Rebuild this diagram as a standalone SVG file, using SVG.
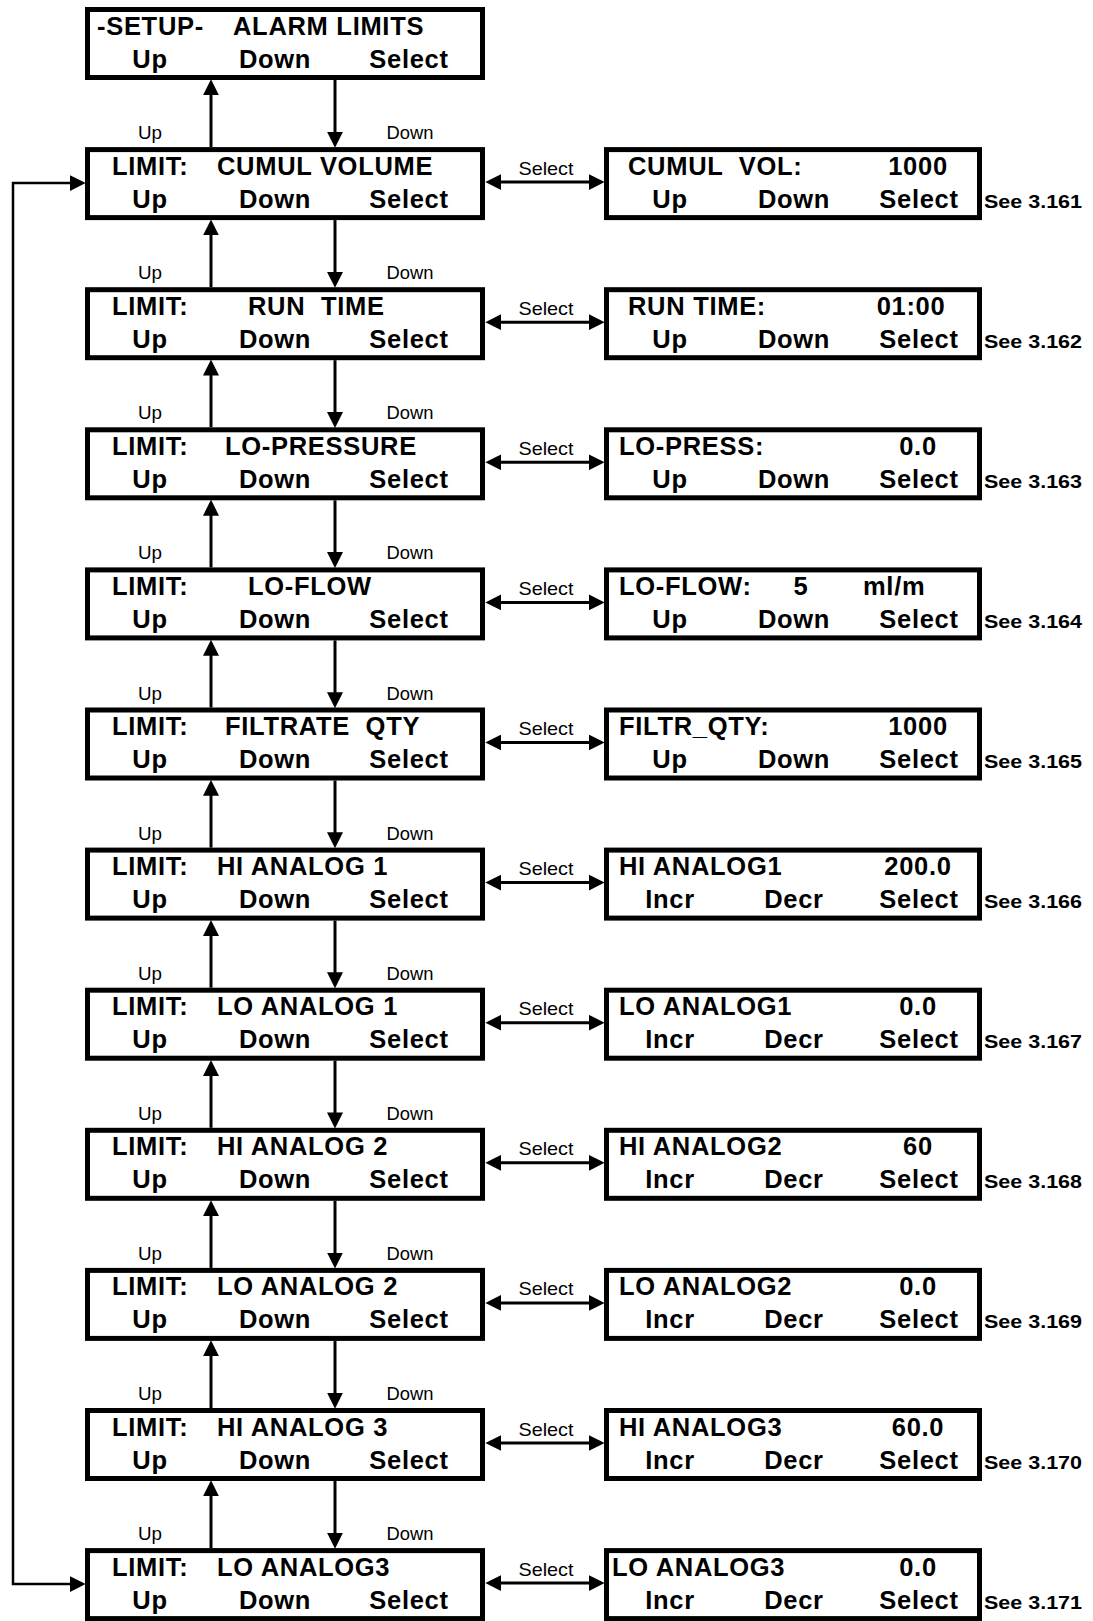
<svg xmlns="http://www.w3.org/2000/svg" width="1093" height="1621" viewBox="0 0 1093 1621">
<style>
.box{fill:#fff;stroke:#000;stroke-width:5}
.t{font-family:"Liberation Sans",Arial,sans-serif;font-weight:bold;font-size:25.5px;letter-spacing:0.7px;fill:#000}
.m{text-anchor:middle}
.see{font-family:"Liberation Sans",Arial,sans-serif;font-weight:bold;font-size:18.5px;fill:#000}
.lbl{font-family:"Liberation Sans",Arial,sans-serif;font-size:18.5px;fill:#000;text-anchor:middle}
.c{fill:none;stroke:#000;stroke-width:3}
.loop{fill:none;stroke:#000;stroke-width:2.5}
</style>
<defs>
<marker id="ah" markerUnits="userSpaceOnUse" markerWidth="16" markerHeight="16" viewBox="0 0 15 15" refX="5" refY="7.5" orient="auto-start-reverse">
<path d="M0,0 L15,7.5 L0,15 z" fill="#000"/>
</marker>
</defs>

<g id="connectors">
<!-- loop -->
<path class="loop" d="M75,183.1 H13 V1584.1 H75" marker-start="url(#ah)" marker-end="url(#ah)"/>
<!-- up / down arrows -->
<line class="c" x1="211" y1="147.1" x2="211" y2="90" marker-end="url(#ah)"/>
<line class="c" x1="335" y1="80" x2="335" y2="137.1" marker-end="url(#ah)"/>
<line class="c" x1="211" y1="287.2" x2="211" y2="230.1" marker-end="url(#ah)"/>
<line class="c" x1="335" y1="220.1" x2="335" y2="277.2" marker-end="url(#ah)"/>
<line class="c" x1="211" y1="427.3" x2="211" y2="370.2" marker-end="url(#ah)"/>
<line class="c" x1="335" y1="360.2" x2="335" y2="417.3" marker-end="url(#ah)"/>
<line class="c" x1="211" y1="567.4" x2="211" y2="510.3" marker-end="url(#ah)"/>
<line class="c" x1="335" y1="500.3" x2="335" y2="557.4" marker-end="url(#ah)"/>
<line class="c" x1="211" y1="707.5" x2="211" y2="650.4" marker-end="url(#ah)"/>
<line class="c" x1="335" y1="640.4" x2="335" y2="697.5" marker-end="url(#ah)"/>
<line class="c" x1="211" y1="847.6" x2="211" y2="790.5" marker-end="url(#ah)"/>
<line class="c" x1="335" y1="780.5" x2="335" y2="837.6" marker-end="url(#ah)"/>
<line class="c" x1="211" y1="987.7" x2="211" y2="930.6" marker-end="url(#ah)"/>
<line class="c" x1="335" y1="920.6" x2="335" y2="977.7" marker-end="url(#ah)"/>
<line class="c" x1="211" y1="1127.8" x2="211" y2="1070.7" marker-end="url(#ah)"/>
<line class="c" x1="335" y1="1060.7" x2="335" y2="1117.8" marker-end="url(#ah)"/>
<line class="c" x1="211" y1="1267.9" x2="211" y2="1210.8" marker-end="url(#ah)"/>
<line class="c" x1="335" y1="1200.8" x2="335" y2="1257.9" marker-end="url(#ah)"/>
<line class="c" x1="211" y1="1408" x2="211" y2="1350.9" marker-end="url(#ah)"/>
<line class="c" x1="335" y1="1340.9" x2="335" y2="1398" marker-end="url(#ah)"/>
<line class="c" x1="211" y1="1548.1" x2="211" y2="1491" marker-end="url(#ah)"/>
<line class="c" x1="335" y1="1481" x2="335" y2="1538.1" marker-end="url(#ah)"/>
<!-- select arrows -->
<line class="c" x1="496" y1="182.1" x2="594" y2="182.1" marker-start="url(#ah)" marker-end="url(#ah)"/>
<line class="c" x1="496" y1="322.2" x2="594" y2="322.2" marker-start="url(#ah)" marker-end="url(#ah)"/>
<line class="c" x1="496" y1="462.3" x2="594" y2="462.3" marker-start="url(#ah)" marker-end="url(#ah)"/>
<line class="c" x1="496" y1="602.4" x2="594" y2="602.4" marker-start="url(#ah)" marker-end="url(#ah)"/>
<line class="c" x1="496" y1="742.5" x2="594" y2="742.5" marker-start="url(#ah)" marker-end="url(#ah)"/>
<line class="c" x1="496" y1="882.6" x2="594" y2="882.6" marker-start="url(#ah)" marker-end="url(#ah)"/>
<line class="c" x1="496" y1="1022.7" x2="594" y2="1022.7" marker-start="url(#ah)" marker-end="url(#ah)"/>
<line class="c" x1="496" y1="1162.8" x2="594" y2="1162.8" marker-start="url(#ah)" marker-end="url(#ah)"/>
<line class="c" x1="496" y1="1302.9" x2="594" y2="1302.9" marker-start="url(#ah)" marker-end="url(#ah)"/>
<line class="c" x1="496" y1="1443" x2="594" y2="1443" marker-start="url(#ah)" marker-end="url(#ah)"/>
<line class="c" x1="496" y1="1583.1" x2="594" y2="1583.1" marker-start="url(#ah)" marker-end="url(#ah)"/>
<!-- labels -->
<g>
<text class="lbl" x="150" y="139.1" textLength="24" lengthAdjust="spacingAndGlyphs">Up</text><text class="lbl" x="410" y="139.1" textLength="47" lengthAdjust="spacingAndGlyphs">Down</text>
<text class="lbl" x="150" y="279.2" textLength="24" lengthAdjust="spacingAndGlyphs">Up</text><text class="lbl" x="410" y="279.2" textLength="47" lengthAdjust="spacingAndGlyphs">Down</text>
<text class="lbl" x="150" y="419.3" textLength="24" lengthAdjust="spacingAndGlyphs">Up</text><text class="lbl" x="410" y="419.3" textLength="47" lengthAdjust="spacingAndGlyphs">Down</text>
<text class="lbl" x="150" y="559.4" textLength="24" lengthAdjust="spacingAndGlyphs">Up</text><text class="lbl" x="410" y="559.4" textLength="47" lengthAdjust="spacingAndGlyphs">Down</text>
<text class="lbl" x="150" y="699.5" textLength="24" lengthAdjust="spacingAndGlyphs">Up</text><text class="lbl" x="410" y="699.5" textLength="47" lengthAdjust="spacingAndGlyphs">Down</text>
<text class="lbl" x="150" y="839.6" textLength="24" lengthAdjust="spacingAndGlyphs">Up</text><text class="lbl" x="410" y="839.6" textLength="47" lengthAdjust="spacingAndGlyphs">Down</text>
<text class="lbl" x="150" y="979.7" textLength="24" lengthAdjust="spacingAndGlyphs">Up</text><text class="lbl" x="410" y="979.7" textLength="47" lengthAdjust="spacingAndGlyphs">Down</text>
<text class="lbl" x="150" y="1119.8" textLength="24" lengthAdjust="spacingAndGlyphs">Up</text><text class="lbl" x="410" y="1119.8" textLength="47" lengthAdjust="spacingAndGlyphs">Down</text>
<text class="lbl" x="150" y="1259.9" textLength="24" lengthAdjust="spacingAndGlyphs">Up</text><text class="lbl" x="410" y="1259.9" textLength="47" lengthAdjust="spacingAndGlyphs">Down</text>
<text class="lbl" x="150" y="1400" textLength="24" lengthAdjust="spacingAndGlyphs">Up</text><text class="lbl" x="410" y="1400" textLength="47" lengthAdjust="spacingAndGlyphs">Down</text>
<text class="lbl" x="150" y="1540.1" textLength="24" lengthAdjust="spacingAndGlyphs">Up</text><text class="lbl" x="410" y="1540.1" textLength="47" lengthAdjust="spacingAndGlyphs">Down</text>
<text class="lbl" x="546" y="174.6" textLength="55" lengthAdjust="spacingAndGlyphs">Select</text>
<text class="lbl" x="546" y="314.7" textLength="55" lengthAdjust="spacingAndGlyphs">Select</text>
<text class="lbl" x="546" y="454.8" textLength="55" lengthAdjust="spacingAndGlyphs">Select</text>
<text class="lbl" x="546" y="594.9" textLength="55" lengthAdjust="spacingAndGlyphs">Select</text>
<text class="lbl" x="546" y="735" textLength="55" lengthAdjust="spacingAndGlyphs">Select</text>
<text class="lbl" x="546" y="875.1" textLength="55" lengthAdjust="spacingAndGlyphs">Select</text>
<text class="lbl" x="546" y="1015.2" textLength="55" lengthAdjust="spacingAndGlyphs">Select</text>
<text class="lbl" x="546" y="1155.3" textLength="55" lengthAdjust="spacingAndGlyphs">Select</text>
<text class="lbl" x="546" y="1295.4" textLength="55" lengthAdjust="spacingAndGlyphs">Select</text>
<text class="lbl" x="546" y="1435.5" textLength="55" lengthAdjust="spacingAndGlyphs">Select</text>
<text class="lbl" x="546" y="1575.6" textLength="55" lengthAdjust="spacingAndGlyphs">Select</text>
</g>
</g>

<!-- left column -->
<g id="setup" transform="translate(0,7)">
<rect class="box" x="87.5" y="2.5" width="395" height="68"/>
<text class="t" x="97" y="27.5">-SETUP-</text><text class="t" x="233" y="27.5">ALARM LIMITS</text>
<text class="t m" x="150" y="60.5">Up</text><text class="t m" x="275" y="60.5">Down</text><text class="t m" x="409" y="60.5">Select</text>
</g>
<g id="limit-cumul" transform="translate(0,147.1)">
<rect class="box" x="87.5" y="2.5" width="395" height="68"/>
<text class="t" x="112" y="27.5">LIMIT:</text><text class="t" x="217" y="27.5">CUMUL VOLUME</text>
<text class="t m" x="150" y="60.5">Up</text><text class="t m" x="275" y="60.5">Down</text><text class="t m" x="409" y="60.5">Select</text>
</g>
<g id="limit-runtime" transform="translate(0,287.2)">
<rect class="box" x="87.5" y="2.5" width="395" height="68"/>
<text class="t" x="112" y="27.5">LIMIT:</text><text class="t" x="248" y="27.5" xml:space="preserve">RUN  TIME</text>
<text class="t m" x="150" y="60.5">Up</text><text class="t m" x="275" y="60.5">Down</text><text class="t m" x="409" y="60.5">Select</text>
</g>
<g id="limit-lopress" transform="translate(0,427.3)">
<rect class="box" x="87.5" y="2.5" width="395" height="68"/>
<text class="t" x="112" y="27.5">LIMIT:</text><text class="t" x="225" y="27.5">LO-PRESSURE</text>
<text class="t m" x="150" y="60.5">Up</text><text class="t m" x="275" y="60.5">Down</text><text class="t m" x="409" y="60.5">Select</text>
</g>
<g id="limit-loflow" transform="translate(0,567.4)">
<rect class="box" x="87.5" y="2.5" width="395" height="68"/>
<text class="t" x="112" y="27.5">LIMIT:</text><text class="t" x="248" y="27.5">LO-FLOW</text>
<text class="t m" x="150" y="60.5">Up</text><text class="t m" x="275" y="60.5">Down</text><text class="t m" x="409" y="60.5">Select</text>
</g>
<g id="limit-filtrate" transform="translate(0,707.5)">
<rect class="box" x="87.5" y="2.5" width="395" height="68"/>
<text class="t" x="112" y="27.5">LIMIT:</text><text class="t" x="225" y="27.5" xml:space="preserve">FILTRATE  QTY</text>
<text class="t m" x="150" y="60.5">Up</text><text class="t m" x="275" y="60.5">Down</text><text class="t m" x="409" y="60.5">Select</text>
</g>
<g id="limit-hian1" transform="translate(0,847.6)">
<rect class="box" x="87.5" y="2.5" width="395" height="68"/>
<text class="t" x="112" y="27.5">LIMIT:</text><text class="t" x="217" y="27.5">HI ANALOG 1</text>
<text class="t m" x="150" y="60.5">Up</text><text class="t m" x="275" y="60.5">Down</text><text class="t m" x="409" y="60.5">Select</text>
</g>
<g id="limit-loan1" transform="translate(0,987.7)">
<rect class="box" x="87.5" y="2.5" width="395" height="68"/>
<text class="t" x="112" y="27.5">LIMIT:</text><text class="t" x="217" y="27.5">LO ANALOG 1</text>
<text class="t m" x="150" y="60.5">Up</text><text class="t m" x="275" y="60.5">Down</text><text class="t m" x="409" y="60.5">Select</text>
</g>
<g id="limit-hian2" transform="translate(0,1127.8)">
<rect class="box" x="87.5" y="2.5" width="395" height="68"/>
<text class="t" x="112" y="27.5">LIMIT:</text><text class="t" x="217" y="27.5">HI ANALOG 2</text>
<text class="t m" x="150" y="60.5">Up</text><text class="t m" x="275" y="60.5">Down</text><text class="t m" x="409" y="60.5">Select</text>
</g>
<g id="limit-loan2" transform="translate(0,1267.9)">
<rect class="box" x="87.5" y="2.5" width="395" height="68"/>
<text class="t" x="112" y="27.5">LIMIT:</text><text class="t" x="217" y="27.5">LO ANALOG 2</text>
<text class="t m" x="150" y="60.5">Up</text><text class="t m" x="275" y="60.5">Down</text><text class="t m" x="409" y="60.5">Select</text>
</g>
<g id="limit-hian3" transform="translate(0,1408)">
<rect class="box" x="87.5" y="2.5" width="395" height="68"/>
<text class="t" x="112" y="27.5">LIMIT:</text><text class="t" x="217" y="27.5">HI ANALOG 3</text>
<text class="t m" x="150" y="60.5">Up</text><text class="t m" x="275" y="60.5">Down</text><text class="t m" x="409" y="60.5">Select</text>
</g>
<g id="limit-loan3" transform="translate(0,1548.1)">
<rect class="box" x="87.5" y="2.5" width="395" height="68"/>
<text class="t" x="112" y="27.5">LIMIT:</text><text class="t" x="217" y="27.5">LO ANALOG3</text>
<text class="t m" x="150" y="60.5">Up</text><text class="t m" x="275" y="60.5">Down</text><text class="t m" x="409" y="60.5">Select</text>
</g>

<!-- right column -->
<g id="val-cumul" transform="translate(0,147.1)">
<rect class="box" x="606.5" y="2.5" width="373" height="68"/>
<text class="t" x="628" y="27.5" xml:space="preserve">CUMUL  VOL:</text><text class="t m" x="918" y="27.5">1000</text>
<text class="t m" x="670" y="60.5">Up</text><text class="t m" x="794" y="60.5">Down</text><text class="t m" x="919" y="60.5">Select</text>
<text class="see" x="984" y="60.5" textLength="98" lengthAdjust="spacingAndGlyphs">See 3.161</text>
</g>
<g id="val-runtime" transform="translate(0,287.2)">
<rect class="box" x="606.5" y="2.5" width="373" height="68"/>
<text class="t" x="628" y="27.5">RUN TIME:</text><text class="t m" x="911" y="27.5">01:00</text>
<text class="t m" x="670" y="60.5">Up</text><text class="t m" x="794" y="60.5">Down</text><text class="t m" x="919" y="60.5">Select</text>
<text class="see" x="984" y="60.5" textLength="98" lengthAdjust="spacingAndGlyphs">See 3.162</text>
</g>
<g id="val-lopress" transform="translate(0,427.3)">
<rect class="box" x="606.5" y="2.5" width="373" height="68"/>
<text class="t" x="619" y="27.5">LO-PRESS:</text><text class="t m" x="918" y="27.5">0.0</text>
<text class="t m" x="670" y="60.5">Up</text><text class="t m" x="794" y="60.5">Down</text><text class="t m" x="919" y="60.5">Select</text>
<text class="see" x="984" y="60.5" textLength="98" lengthAdjust="spacingAndGlyphs">See 3.163</text>
</g>
<g id="val-loflow" transform="translate(0,567.4)">
<rect class="box" x="606.5" y="2.5" width="373" height="68"/>
<text class="t" x="619" y="27.5">LO-FLOW:</text><text class="t m" x="801" y="27.5">5</text><text class="t" x="863" y="27.5">ml/m</text>
<text class="t m" x="670" y="60.5">Up</text><text class="t m" x="794" y="60.5">Down</text><text class="t m" x="919" y="60.5">Select</text>
<text class="see" x="984" y="60.5" textLength="98" lengthAdjust="spacingAndGlyphs">See 3.164</text>
</g>
<g id="val-filtr" transform="translate(0,707.5)">
<rect class="box" x="606.5" y="2.5" width="373" height="68"/>
<text class="t" x="619" y="27.5">FILTR_QTY:</text><text class="t m" x="918" y="27.5">1000</text>
<text class="t m" x="670" y="60.5">Up</text><text class="t m" x="794" y="60.5">Down</text><text class="t m" x="919" y="60.5">Select</text>
<text class="see" x="984" y="60.5" textLength="98" lengthAdjust="spacingAndGlyphs">See 3.165</text>
</g>
<g id="val-hian1" transform="translate(0,847.6)">
<rect class="box" x="606.5" y="2.5" width="373" height="68"/>
<text class="t" x="619" y="27.5">HI ANALOG1</text><text class="t m" x="918" y="27.5">200.0</text>
<text class="t m" x="670" y="60.5">Incr</text><text class="t m" x="794" y="60.5">Decr</text><text class="t m" x="919" y="60.5">Select</text>
<text class="see" x="984" y="60.5" textLength="98" lengthAdjust="spacingAndGlyphs">See 3.166</text>
</g>
<g id="val-loan1" transform="translate(0,987.7)">
<rect class="box" x="606.5" y="2.5" width="373" height="68"/>
<text class="t" x="619" y="27.5">LO ANALOG1</text><text class="t m" x="918" y="27.5">0.0</text>
<text class="t m" x="670" y="60.5">Incr</text><text class="t m" x="794" y="60.5">Decr</text><text class="t m" x="919" y="60.5">Select</text>
<text class="see" x="984" y="60.5" textLength="98" lengthAdjust="spacingAndGlyphs">See 3.167</text>
</g>
<g id="val-hian2" transform="translate(0,1127.8)">
<rect class="box" x="606.5" y="2.5" width="373" height="68"/>
<text class="t" x="619" y="27.5">HI ANALOG2</text><text class="t m" x="918" y="27.5">60</text>
<text class="t m" x="670" y="60.5">Incr</text><text class="t m" x="794" y="60.5">Decr</text><text class="t m" x="919" y="60.5">Select</text>
<text class="see" x="984" y="60.5" textLength="98" lengthAdjust="spacingAndGlyphs">See 3.168</text>
</g>
<g id="val-loan2" transform="translate(0,1267.9)">
<rect class="box" x="606.5" y="2.5" width="373" height="68"/>
<text class="t" x="619" y="27.5">LO ANALOG2</text><text class="t m" x="918" y="27.5">0.0</text>
<text class="t m" x="670" y="60.5">Incr</text><text class="t m" x="794" y="60.5">Decr</text><text class="t m" x="919" y="60.5">Select</text>
<text class="see" x="984" y="60.5" textLength="98" lengthAdjust="spacingAndGlyphs">See 3.169</text>
</g>
<g id="val-hian3" transform="translate(0,1408)">
<rect class="box" x="606.5" y="2.5" width="373" height="68"/>
<text class="t" x="619" y="27.5">HI ANALOG3</text><text class="t m" x="918" y="27.5">60.0</text>
<text class="t m" x="670" y="60.5">Incr</text><text class="t m" x="794" y="60.5">Decr</text><text class="t m" x="919" y="60.5">Select</text>
<text class="see" x="984" y="60.5" textLength="98" lengthAdjust="spacingAndGlyphs">See 3.170</text>
</g>
<g id="val-loan3" transform="translate(0,1548.1)">
<rect class="box" x="606.5" y="2.5" width="373" height="68"/>
<text class="t" x="612" y="27.5">LO ANALOG3</text><text class="t m" x="918" y="27.5">0.0</text>
<text class="t m" x="670" y="60.5">Incr</text><text class="t m" x="794" y="60.5">Decr</text><text class="t m" x="919" y="60.5">Select</text>
<text class="see" x="984" y="60.5" textLength="98" lengthAdjust="spacingAndGlyphs">See 3.171</text>
</g>
</svg>
